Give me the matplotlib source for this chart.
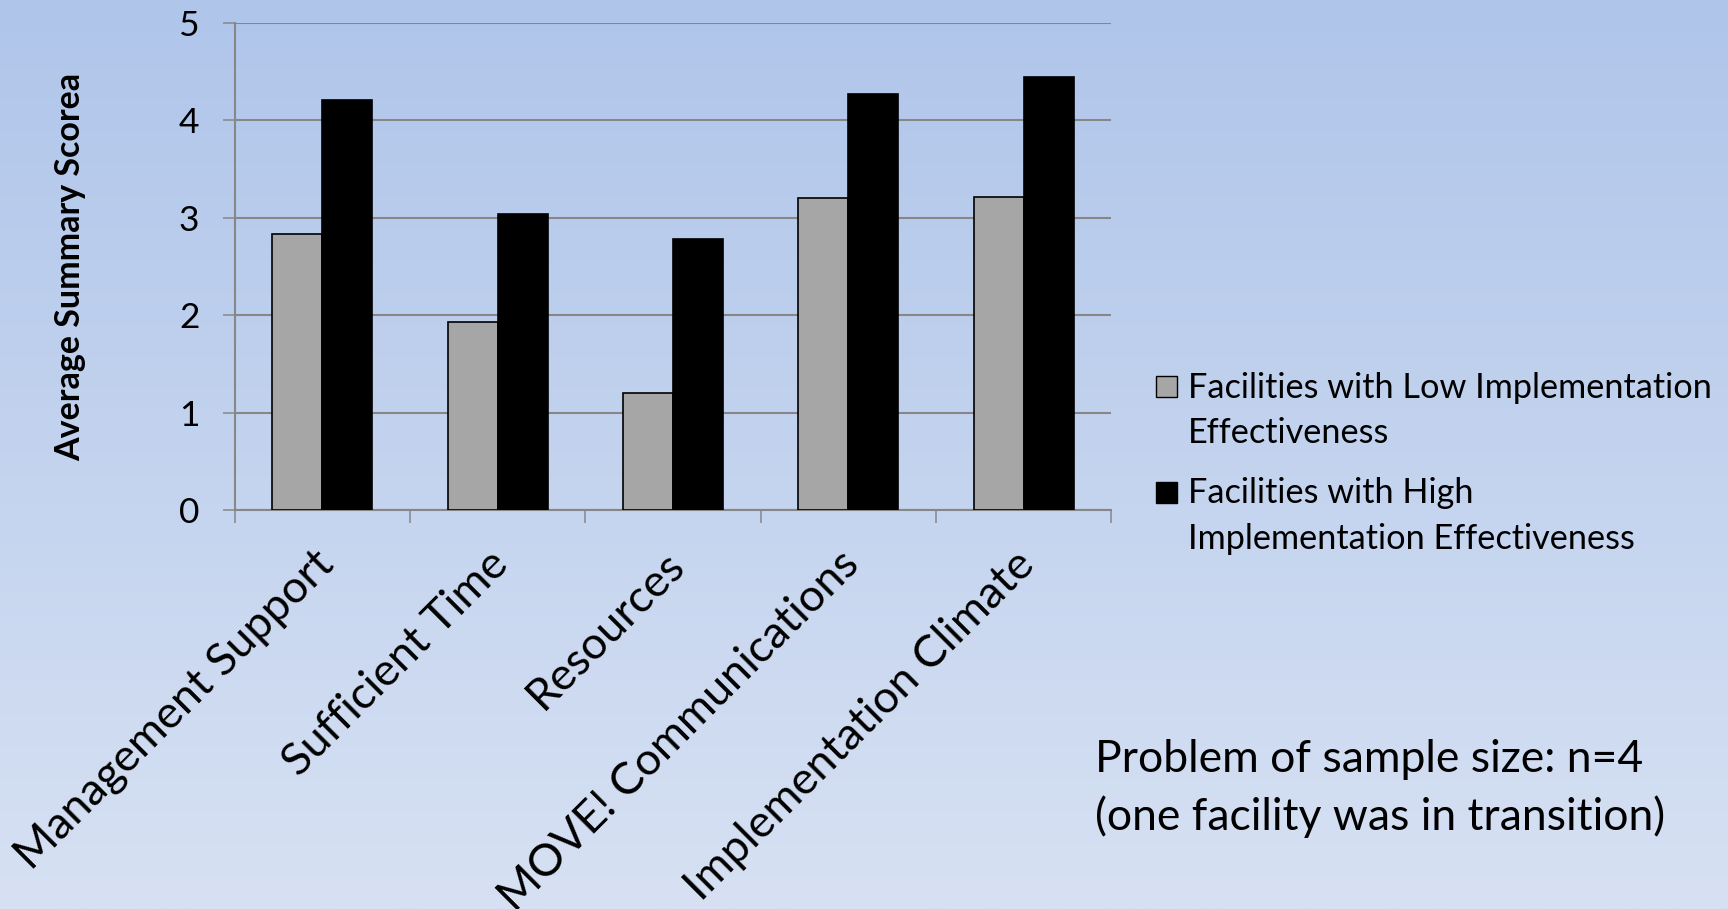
import matplotlib
matplotlib.use("Agg")
import matplotlib.pyplot as plt
import numpy as np
from matplotlib.patches import Rectangle
from matplotlib.transforms import ScaledTranslation

categories = ["Management Support", "Sufficient Time", "Resources",
              "MOVE! Communications", "Implementation Climate"]
low_scores = [2.83, 1.93, 1.20, 3.20, 3.21]
high_scores = [4.21, 3.04, 2.78, 4.27, 4.45]
series_labels = [["Facilities with Low Implementation", "Effectiveness"],
                 ["Facilities with High", "Implementation Effectiveness"]]
series_colors = ["#A6A6A6", "#000000"]
y_ticks = [0, 1, 2, 3, 4, 5]
y_label = "Average Summary Scorea"
note_lines = ["Problem of sample size: n=4", "(one facility was in transition)"]

plt.rcParams['font.family'] = ['Lato', 'DejaVu Sans']

W, H = 1728, 909
fig = plt.figure(figsize=(W / 100, H / 100), dpi=100)

def fx(px):
    return px / W

def fy(py):
    return 1 - py / H

# slide background: vertical gradient, darker blue at the top
bg = fig.add_axes([0, 0, 1, 1], zorder=-10)
top_rgb = np.array([175, 197, 234]) / 255
bot_rgb = np.array([215, 225, 243]) / 255
t = np.linspace(0, 1, 512)[:, None, None]
grad = top_rgb[None, None, :] * (1 - t) + bot_rgb[None, None, :] * t
bg.imshow(grad, aspect='auto', extent=[0, 1, 0, 1], origin='upper')
bg.axis('off')

grid_gray = "#878787"
ax = fig.add_axes([fx(234.6), fy(510), fx(1111.4) - fx(234.6), fy(23) - fy(510)])
ax.patch.set_alpha(0)

x = np.arange(len(categories))
w = 0.285
ax.bar(x - w / 2, low_scores, w, color=series_colors[0], edgecolor="black",
       linewidth=1.2, zorder=3)
ax.bar(x + w / 2, high_scores, w, color=series_colors[1], edgecolor="black",
       linewidth=1.2, zorder=3)

ax.set_xlim(-0.5, len(categories) - 0.5)
ax.set_ylim(0, 5)
ax.set_yticks(y_ticks)
ax.yaxis.grid(True, color=grid_gray, linewidth=1.5)
ax.set_axisbelow(True)

for side in ("top", "right"):
    ax.spines[side].set_visible(False)
for side in ("left", "bottom"):
    ax.spines[side].set_color(grid_gray)
    ax.spines[side].set_linewidth(1.5)

ax.tick_params(axis='y', length=8.3, width=1.1, color=grid_gray, pad=17,
               labelsize=25.5)

ax.set_xticks(x)
ax.set_xticklabels(categories, rotation=45, ha='right', va='top',
                   rotation_mode='anchor', fontsize=32.5)
ax.tick_params(axis='x', which='major', length=0, pad=24)
shift = ScaledTranslation(-0.10, 0, fig.dpi_scale_trans)
for lbl in ax.get_xticklabels():
    lbl.set_transform(lbl.get_transform() + shift)
ax.set_xticks(np.arange(-0.5, len(categories), 1), minor=True)
ax.tick_params(axis='x', which='minor', length=9.4, width=1.1, color=grid_gray)

fig.text(fx(70), fy(267), y_label, rotation=90, ha='center', va='center',
         fontsize=24.5, fontweight='bold')

# legend entries
sq_tops = [376, 482]
line_baselines = [[398, 443], [503, 549]]
for color, lines, top, bases in zip(series_colors, series_labels, sq_tops, line_baselines):
    fig.add_artist(Rectangle((fx(1156), fy(top + 21)), fx(21), fy(0) - fy(21),
                             facecolor=color, edgecolor="black", linewidth=1,
                             transform=fig.transFigure))
    for line, b in zip(lines, bases):
        fig.text(fx(1188), fy(b), line, va='baseline', ha='left', fontsize=24.7)

for line, b in zip(note_lines, [772, 830]):
    fig.text(fx(1095), fy(b), line, va='baseline', ha='left', fontsize=32)

fig.savefig("out.png", dpi=100)
